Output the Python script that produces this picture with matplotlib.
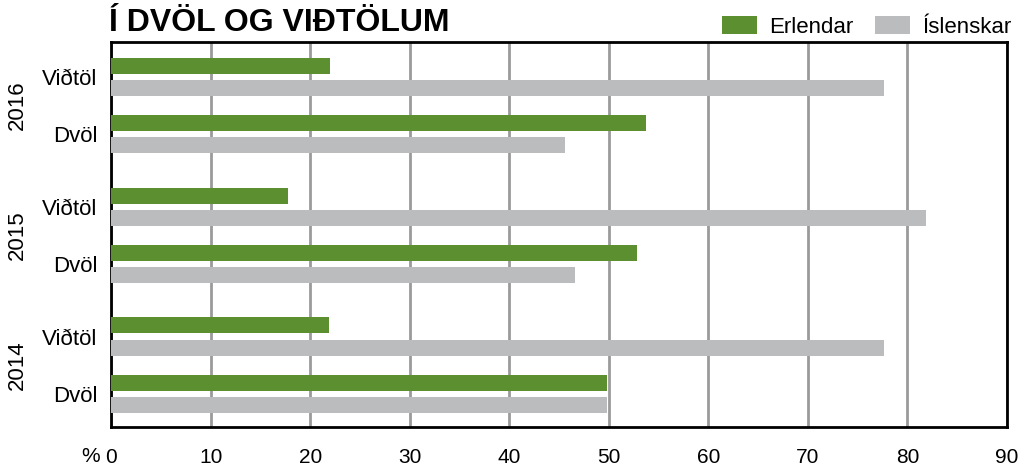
import matplotlib.pyplot as plt
import numpy as np

plt.rcParams['font.family'] = ['Liberation Sans', 'DejaVu Sans']

years = ['2016', '2015', '2014']
kinds = ['Viðtöl', 'Dvöl']
# Erlendar / Íslenskar, per year, order Viðtöl, Dvöl
erlendar = [[22.0, 53.7], [17.8, 52.8], [21.9, 49.8]]
islenskar = [[77.6, 45.6], [81.9, 46.6], [77.6, 49.8]]

green = '#5b8f2f'
grey = '#bbbcbe'

fig = plt.figure(figsize=(10.29, 4.68), dpi=100)
ax = fig.add_axes([0.1079, 0.0876, 0.8707, 0.8227])

year_gap = 2.27
bh = 0.28
off = 0.195

pos = []
for i, y in enumerate(years):
    for j, k in enumerate(kinds):
        pos.append(i * year_gap + j)
pos = np.array(pos)
e = np.array(erlendar).ravel()
s = np.array(islenskar).ravel()

ax.barh(pos - off, e, height=bh, color=green, label='Erlendar', zorder=3)
ax.barh(pos + off, s, height=bh, color=grey, label='Íslenskar', zorder=3)

ax.set_ylim(pos[-1] + 0.58, pos[0] - 0.61)
ax.set_xlim(0, 90)
ax.set_xticks(np.arange(0, 91, 10))
ax.set_yticks(pos)
ax.set_yticklabels(kinds * len(years))
ax.tick_params(axis='both', length=0)
ax.tick_params(axis='x', pad=15, labelsize=15)
ax.tick_params(axis='y', pad=10, labelsize=16)
ax.grid(axis='x', color='#9a9a9c', linewidth=2, zorder=0)
for sp in ax.spines.values():
    sp.set_linewidth(2)
    sp.set_color('black')

trans = ax.get_yaxis_transform()
for i, y in enumerate(years):
    ax.text(-0.104, i * year_gap + 0.5, y, transform=trans, rotation=90,
            ha='center', va='center', fontsize=16)

fig.text(100 / 1029, 1 - 456 / 468, '%', ha='right', va='center', fontsize=15)
fig.text(109 / 1029, 1 - 23 / 468, 'Í DVÖL OG VIÐTÖLUM', ha='left', va='center',
         fontsize=23, fontweight='bold')

ax.legend(loc='lower right', bbox_to_anchor=(1.008, 1.005), ncol=2, frameon=False,
          fontsize=16, handlelength=1.6, handleheight=0.85, handletextpad=0.55,
          columnspacing=0.95, borderaxespad=0, borderpad=0.1)

fig.savefig('out.png', dpi=100)
